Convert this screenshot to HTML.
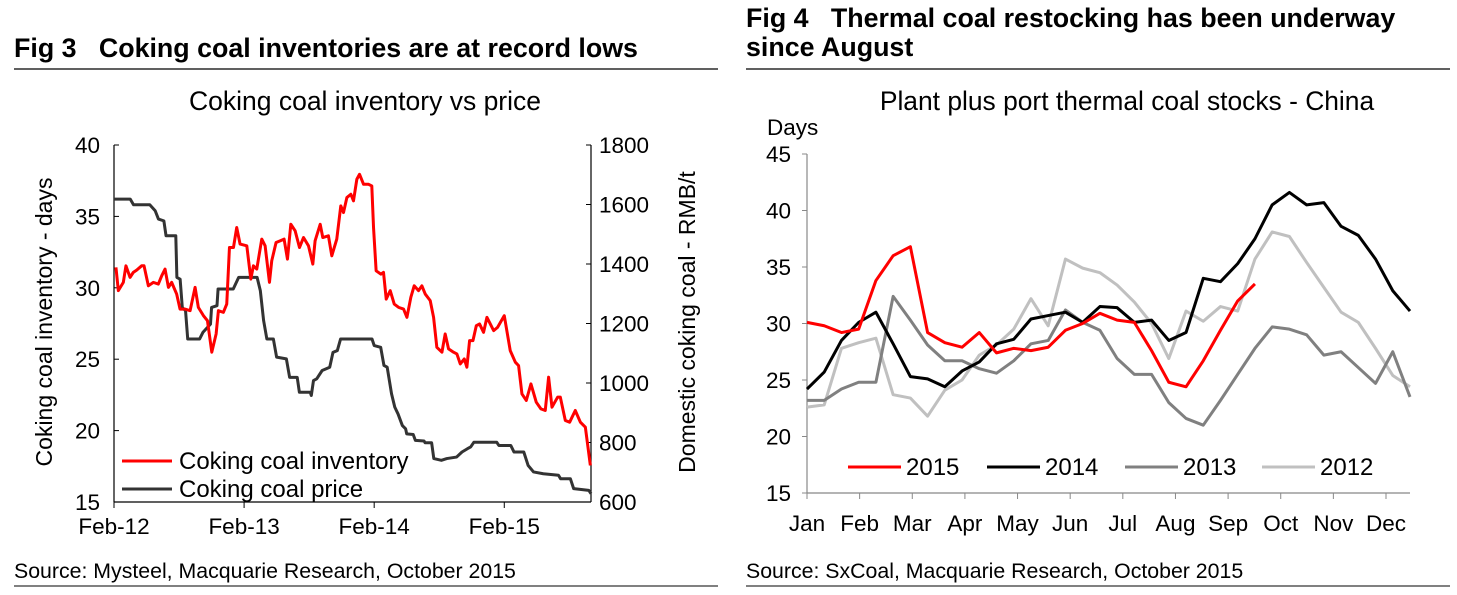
<!DOCTYPE html>
<html><head><meta charset="utf-8"><style>
body{margin:0;background:#fff;width:1457px;height:595px;overflow:hidden;font-family:"Liberation Sans",Arial,sans-serif}
svg{position:absolute;left:0;top:0}
</style></head><body>
<svg width="1457" height="595" font-family="Liberation Sans, Arial, sans-serif">
<text x="14" y="57" font-size="26.8" font-weight="bold">Fig 3 &#160;&#160;Coking coal inventories are at record lows</text>
<line x1="14" y1="69" x2="718" y2="69" stroke="#000" stroke-width="1.3"/>
<text x="746" y="27" font-size="26.8" font-weight="bold">Fig 4 &#160;&#160;Thermal coal restocking has been underway</text>
<text x="746" y="56" font-size="26.8" font-weight="bold">since August</text>
<line x1="746" y1="69" x2="1450" y2="69" stroke="#000" stroke-width="1.3"/>
<text x="14" y="578" font-size="21.3">Source: Mysteel, Macquarie Research, October 2015</text>
<line x1="14" y1="586" x2="718" y2="586" stroke="#000" stroke-width="1"/>
<text x="746" y="578" font-size="21.3">Source: SxCoal, Macquarie Research, October 2015</text>
<line x1="746" y1="586" x2="1450" y2="586" stroke="#000" stroke-width="1"/>
<g id="c1"></g>
<g id="c2"></g>
</svg>
<script>
// ---- Fig 3 data ----
const invMonths=[0.18,0.4,0.86,1.1,1.48,1.78,2.09,2.55,2.77,3.17,3.63,4.09,4.4,4.71,5.02,5.32,5.78,6.09,6.55,7.02,7.48,7.78,8.25,8.62,9.02,9.42,9.63,10.09,10.4,10.65,11.02,11.32,11.63,12.25,12.62,12.86,13.17,13.63,13.94,14.34,14.55,14.95,15.32,15.69,16.0,16.31,16.71,17.11,17.48,17.94,18.34,18.55,19.02,19.26,19.78,20.09,20.55,20.92,21.17,21.48,21.85,22.09,22.4,22.65,23.02,23.48,23.78,23.94,24.18,24.62,24.86,25.11,25.48,25.85,26.25,26.71,27.02,27.38,27.69,28.09,28.4,28.71,29.17,29.48,29.78,30.25,30.55,30.86,31.32,31.63,31.94,32.31,32.55,32.8,33.11,33.42,33.72,34.09,34.4,34.71,35.02,35.38,36.0,36.55,37.02,37.32,37.63,38.03,38.46,38.95,39.38,39.78,40.09,40.4,40.92,41.17,41.63,42.03,42.55,43.02,43.48,43.94];
const invValues=[31.43,29.8,30.38,31.54,30.73,31.08,31.24,31.54,31.54,30.14,30.38,30.26,30.84,31.31,30.03,30.38,29.56,28.51,28.51,28.4,30.03,28.63,28.05,27.7,25.49,26.77,28.4,28.28,28.86,32.82,32.82,34.22,33.06,32.94,30.61,31.54,31.31,33.41,32.94,30.38,31.89,33.17,33.29,33.41,32.01,34.45,33.99,32.82,33.52,32.94,31.66,33.29,34.45,33.52,33.64,32.24,33.41,35.74,35.27,36.32,36.55,36.09,37.6,37.95,37.25,37.25,37.13,34.22,31.19,30.96,31.08,29.21,29.8,28.86,28.63,28.51,27.93,29.33,30.14,29.8,30.14,29.56,29.1,27.93,25.83,25.49,26.77,25.72,25.49,25.37,24.67,25.02,24.44,26.3,26.3,27.35,27.47,26.88,27.93,27.47,27.0,27.23,28.05,25.6,24.79,24.55,22.57,22.11,23.27,21.99,21.52,21.41,23.74,21.64,22.34,22.34,20.71,20.59,21.41,20.59,20.24,17.56];
const priceMonths=[0,1.5,1.8,3.3,3.8,4.1,4.6,4.8,5.7,5.8,6.1,6.3,6.6,6.8,7.9,8.2,8.9,9.0,9.5,9.6,11.0,11.5,13.2,13.5,13.8,14.1,14.7,15.0,15.9,16.2,16.9,17.1,18.1,18.2,18.4,18.7,19.2,19.9,20.2,20.6,20.9,23.8,24.0,24.6,24.9,25.2,25.6,25.9,26.2,26.6,26.9,27.0,27.6,27.8,28.6,28.7,29.3,29.5,30.2,30.7,31.6,32.1,32.6,32.9,33.2,35.3,35.5,36.6,36.9,37.8,38.2,38.7,39.6,41.0,41.2,42.1,42.4,43.8,44.0];
const priceValues=[1618,1618,1599,1599,1579,1551,1545,1495,1495,1355,1349,1254,1243,1148,1148,1170,1198,1254,1260,1316,1316,1355,1355,1310,1210,1148,1148,1087,1081,1019,1019,969,969,958,1008,1014,1042,1053,1103,1109,1148,1148,1126,1120,1059,1053,964,919,896,857,846,829,827,807,805,799,799,746,740,746,751,768,779,785,801,801,790,790,768,768,723,701,695,690,678,678,645,639,628];
const leftTicks=[15,20,25,30,35,40];
const rightTicks=[600,800,1000,1200,1400,1600,1800];
const dateTicks=["Feb-12","Feb-13","Feb-14","Feb-15"];

// ---- Fig 4 data ----
const months=["Jan","Feb","Mar","Apr","May","Jun","Jul","Aug","Sep","Oct","Nov","Dec"];
const dayTicks=[15,20,25,30,35,40,45];
const s2015=[30.1,29.8,29.2,29.5,33.8,36.0,36.8,29.2,28.3,27.9,29.2,27.4,27.8,27.6,27.9,29.4,30.0,30.9,30.3,30.1,27.6,24.8,24.4,26.7,29.4,32.0,33.5];
const s2014=[24.2,25.7,28.5,30.1,31.0,28.2,25.3,25.1,24.4,25.8,26.6,28.2,28.6,30.4,30.7,31.0,30.1,31.5,31.4,30.1,30.3,28.5,29.2,34.0,33.7,35.3,37.5,40.5,41.6,40.5,40.7,38.6,37.8,35.7,32.9,31.1];
const s2013=[23.2,23.2,24.2,24.8,24.8,32.4,30.3,28.1,26.7,26.7,26.0,25.6,26.7,28.2,28.5,31.2,30.1,29.4,26.9,25.5,25.5,23.0,21.6,21.0,23.2,25.5,27.8,29.7,29.5,29.0,27.2,27.5,26.1,24.7,27.5,23.5];
const s2012=[22.6,22.8,27.8,28.3,28.7,23.7,23.4,21.8,24.1,25.0,27.2,28.1,29.5,32.2,29.8,35.7,34.9,34.5,33.4,31.9,30.0,26.9,31.1,30.2,31.5,31.1,35.7,38.1,37.7,35.4,33.2,31.0,30.1,27.8,25.4,24.4];

const NS="http://www.w3.org/2000/svg";
function mk(parent,tag,attrs,txt){const e=document.createElementNS(NS,tag);for(const k in attrs)e.setAttribute(k,attrs[k]);if(txt!==undefined)e.textContent=txt;parent.appendChild(e);return e;}

// Chart 1
(function(){
const g=document.getElementById('c1');
const x0=114,x1=591,yT=145,yB=502;
const X=m=>x0+m*(x1-x0)/44;
const YL=v=>yB-(v-15)*(yB-yT)/25;
const YR=v=>yB-(v-600)*(yB-yT)/1200;
let t=mk(g,'text',{x:365,y:110,'font-size':26.5,'text-anchor':'middle'},'Coking coal inventory vs price');


let a=mk(g,'line',{x1:x0,y1:yT,x2:x0,y2:yB,stroke:'#000','stroke-width':1.2});

a=mk(g,'line',{x1:x1,y1:yT,x2:x1,y2:yB,stroke:'#000','stroke-width':1.2});

a=mk(g,'line',{x1:x0,y1:yB,x2:x1,y2:yB,stroke:'#000','stroke-width':1.2});

leftTicks.forEach(v=>{const y=YL(v);
 mk(g,'line',{x1:x0,y1:y,x2:x0+5,y2:y,stroke:'#000'});
 const l=mk(g,'text',{x:x0-14,y:y+8,'font-size':22.5,'text-anchor':'end'},String(v));
 });
rightTicks.forEach(v=>{const y=YR(v);
 mk(g,'line',{x1:x1-5,y1:y,x2:x1,y2:y,stroke:'#000'});
 const l=mk(g,'text',{x:x1+8,y:y+8,'font-size':22.5},String(v));
 });
dateTicks.forEach((d,i)=>{const x=X(i*12);
 mk(g,'line',{x1:x,y1:yB,x2:x,y2:yB+6,stroke:'#000'});
 const l=mk(g,'text',{x:x,y:yB+32,'font-size':22.5,'text-anchor':'middle'},d);
 });
t=mk(g,'text',{transform:'translate(52,322) rotate(-90)','font-size':23,'text-anchor':'middle'},'Coking coal inventory - days');

t=mk(g,'text',{transform:'translate(695,322) rotate(-90)','font-size':23,'text-anchor':'middle'},'Domestic coking coal - RMB/t');

let p=mk(g,'polyline',{points:priceMonths.map((m,i)=>X(m)+','+YR(priceValues[i])).join(' '),fill:'none',stroke:'#333','stroke-width':3,'stroke-linejoin':'round'});

p=mk(g,'polyline',{points:invMonths.map((m,i)=>X(m)+','+YL(invValues[i])).join(' '),fill:'none',stroke:'#f00','stroke-width':3,'stroke-linejoin':'round'});

mk(g,'line',{x1:122,y1:461,x2:172,y2:461,stroke:'#f00','stroke-width':3});
t=mk(g,'text',{x:179,y:469,'font-size':24},'Coking coal inventory');

mk(g,'line',{x1:122,y1:489,x2:172,y2:489,stroke:'#333','stroke-width':3});
t=mk(g,'text',{x:179,y:497,'font-size':24},'Coking coal price');

})();

// Chart 2
(function(){
const g=document.getElementById('c2');
const x0=807,x1=1410,yT=154,yB=493;
const X=i=>x0+i*(x1-x0)/35;
const Y=v=>yB-(v-15)*(yB-yT)/30;
const mw=(1386-807)/11;
let t=mk(g,'text',{x:1127,y:110,'font-size':26.4,'text-anchor':'middle'},'Plant plus port thermal  coal stocks - China');

t=mk(g,'text',{x:767,y:135,'font-size':22.5},'Days');

let a=mk(g,'line',{x1:x0,y1:yT,x2:x0,y2:yB,stroke:'#888','stroke-width':1.2});

a=mk(g,'line',{x1:x0,y1:yB,x2:x1,y2:yB,stroke:'#888','stroke-width':1.2});

dayTicks.forEach(v=>{const y=Y(v);
 mk(g,'line',{x1:x0-5,y1:y,x2:x0,y2:y,stroke:'#888'});
 const l=mk(g,'text',{x:x0-16,y:y+8,'font-size':22.5,'text-anchor':'end'},String(v));
 });
months.forEach((m,i)=>{const x=x0+i*mw;
 mk(g,'line',{x1:x,y1:yB,x2:x,y2:yB+6,stroke:'#888'});
 const l=mk(g,'text',{x:x,y:yB+38,'font-size':22.5,'text-anchor':'middle'},m);
 });
const ser=[[s2012,'#c0c0c0','series-2012'],[s2013,'#808080','series-2013'],[s2014,'#000','series-2014'],[s2015,'#f00','series-2015']];
ser.forEach(s=>{const p=mk(g,'polyline',{points:s[0].map((v,i)=>X(i)+','+Y(v)).join(' '),fill:'none',stroke:s[1],'stroke-width':3,'stroke-linejoin':'round'});
 });
const leg=[['2015','#f00',848],['2014','#000',987],['2013','#808080',1125],['2012','#c0c0c0',1262]];
leg.forEach(l=>{mk(g,'line',{x1:l[2],y1:467,x2:l[2]+53,y2:467,stroke:l[1],'stroke-width':3});
 const e=mk(g,'text',{x:l[2]+58,y:475,'font-size':24},l[0]);
 });
})();
</script>
</body></html>
